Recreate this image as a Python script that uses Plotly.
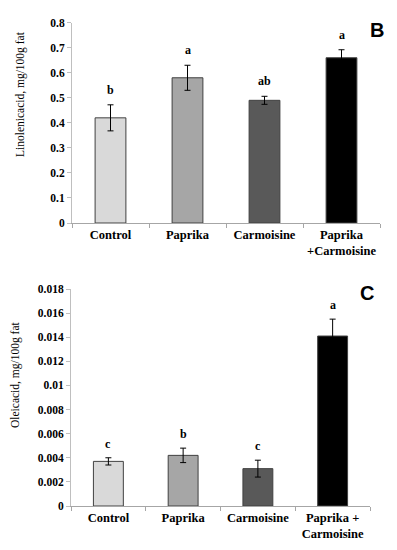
import plotly.graph_objects as go

categories = ["Control", "Paprika", "Carmoisine", "Paprika+Carmoisine"]
colors = ["#d9d9d9", "#a6a6a6", "#595959", "#000000"]

# Panel B: linolenic acid
lin_ticklabels = ["Control", "Paprika", "Carmoisine", "Paprika<br>+Carmoisine"]
lin_values = [0.42, 0.58, 0.49, 0.66]
lin_errors = [0.052, 0.05, 0.016, 0.032]
lin_letters = ["b", "a", "ab", "a"]
lin_yticks = [0, 0.1, 0.2, 0.3, 0.4, 0.5, 0.6, 0.7, 0.8]
lin_yticktext = ["0", "0.1", "0.2", "0.3", "0.4", "0.5", "0.6", "0.7", "0.8"]

# Panel C: oleic acid
ole_ticklabels = ["Control", "Paprika", "Carmoisine", "Paprika +<br>Carmoisine"]
ole_values = [0.0037, 0.0042, 0.0031, 0.0141]
ole_errors = [0.0003, 0.0006, 0.0007, 0.0014]
ole_letters = ["c", "b", "c", "a"]
ole_yticks = [0, 0.002, 0.004, 0.006, 0.008, 0.01, 0.012, 0.014, 0.016, 0.018]
ole_yticktext = ["0", "0.002", "0.004", "0.006", "0.008", "0.01", "0.012", "0.014", "0.016", "0.018"]

# page has an 8px body margin; figure fills the rest of the 397x550 window
OFF = 8
W, H = 397 - OFF, 550 - OFF


def px(x):
    return (x - OFF) / W


def py(y):
    return 1 - (y - OFF) / H


SERIF = "Liberation Serif, DejaVu Serif, serif"
fig = go.Figure()

fig.add_trace(go.Bar(
    x=categories, y=lin_values, xaxis="x", yaxis="y",
    marker=dict(color=colors, line=dict(color="#404040", width=1)),
    error_y=dict(type="data", array=lin_errors, color="#000000", thickness=1, width=3),
    showlegend=False, hoverinfo="skip",
))
fig.add_trace(go.Bar(
    x=categories, y=ole_values, xaxis="x2", yaxis="y2",
    marker=dict(color=colors, line=dict(color="#404040", width=1)),
    error_y=dict(type="data", array=ole_errors, color="#000000", thickness=1, width=3),
    showlegend=False, hoverinfo="skip",
))

annotations = []
for c, v, e, l in zip(categories, lin_values, lin_errors, lin_letters):
    annotations.append(dict(x=c, y=v + e, xref="x", yref="y", text=f"<b>{l}</b>",
                            showarrow=False, xanchor="center", yanchor="bottom", yshift=6,
                            font=dict(family=SERIF, size=12, color="#000")))
for c, v, e, l in zip(categories, ole_values, ole_errors, ole_letters):
    annotations.append(dict(x=c, y=v + e, xref="x2", yref="y2", text=f"<b>{l}</b>",
                            showarrow=False, xanchor="center", yanchor="bottom", yshift=5,
                            font=dict(family=SERIF, size=12, color="#000")))

annotations += [
    dict(x=px(377), y=py(30), xref="paper", yref="paper", text="<b>B</b>",
         xanchor="center", yanchor="middle",
         showarrow=False, font=dict(family="Liberation Sans", size=20, color="#000")),
    dict(x=px(367), y=py(293), xref="paper", yref="paper", text="<b>C</b>",
         xanchor="center", yanchor="middle",
         showarrow=False, font=dict(family="Liberation Sans", size=20, color="#000")),
    dict(x=px(21), y=py(94), xref="paper", yref="paper",
         text="Linolenicacid, mg/100g fat", textangle=-90, showarrow=False,
         xanchor="center", yanchor="middle",
         font=dict(family=SERIF, size=11.5, color="#000")),
    dict(x=px(15), y=py(375), xref="paper", yref="paper",
         text="Oleicacid, mg/100g fat", textangle=-90, showarrow=False,
         xanchor="center", yanchor="middle",
         font=dict(family=SERIF, size=11.5, color="#000")),
]

tickfont = dict(family=SERIF, size=11.5, color="#000")
xcommon = dict(type="category", showline=True, linecolor="#a6a6a6", linewidth=1,
               ticks="outside", tickson="boundaries", ticklen=4, tickcolor="#a6a6a6",
               tickfont=dict(family=SERIF, size=12.5, color="#000"), showgrid=False,
               automargin=False, fixedrange=True, tickangle=0)
ycommon = dict(showline=True, linecolor="#bfbfbf", linewidth=1, ticks="outside",
               ticklen=4, tickcolor="#bfbfbf", tickfont=tickfont, showgrid=False,
               zeroline=False, automargin=False)

fig.update_layout(
    width=W, height=H,
    margin=dict(l=0, r=0, t=0, b=0),
    paper_bgcolor="white", plot_bgcolor="white",
    bargap=0.6,
    xaxis=dict(domain=[px(72), px(380)], anchor="y",
               tickvals=categories, ticktext=[f"<b>{t}</b>" for t in lin_ticklabels], **xcommon),
    yaxis=dict(domain=[py(223), py(22.7)], anchor="x", range=[0, 0.8],
               tickvals=lin_yticks, ticktext=[f"<b>{t}</b>" for t in lin_yticktext], **ycommon),
    xaxis2=dict(domain=[px(71), px(370)], anchor="y2",
                tickvals=categories, ticktext=[f"<b>{t}</b>" for t in ole_ticklabels], **xcommon),
    yaxis2=dict(domain=[py(506), py(289)], anchor="x2", range=[0, 0.018],
                tickvals=ole_yticks, ticktext=[f"<b>{t}</b>" for t in ole_yticktext], **ycommon),
    annotations=annotations,
)

fig.write_html("out.html")
